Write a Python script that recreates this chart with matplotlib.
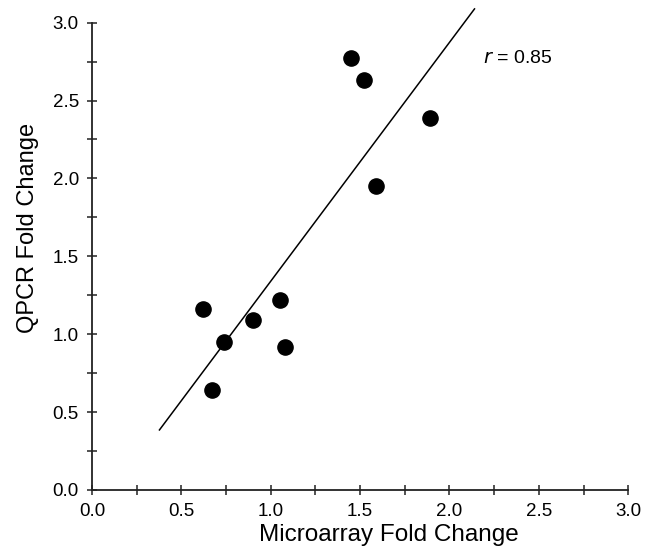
import numpy as np
import matplotlib
matplotlib.use("Agg")
import matplotlib.pyplot as plt
from matplotlib.ticker import MultipleLocator, FormatStrFormatter

plt.rcParams['font.family'] = ['Liberation Sans', 'DejaVu Sans']

# fold changes per gene
microarray = [0.62, 0.67, 0.74, 0.90, 1.05, 1.08, 1.45, 1.52, 1.59, 1.89]
qpcr = [1.16, 0.64, 0.95, 1.09, 1.22, 0.92, 2.77, 2.63, 1.95, 2.39]

# span of the regression line
fit_range = [0.377, 2.14]

x = np.array(microarray)
y = np.array(qpcr)
slope, intercept = np.polyfit(x, y, 1)
r = np.corrcoef(x, y)[0, 1]

fig = plt.figure(figsize=(6.53, 5.53), dpi=100)
ax = fig.add_axes([0.141, 0.114, 0.821, 0.845])

xs = np.array(fit_range)
ax.plot(xs, slope * xs + intercept, color='black', lw=1.1, clip_on=False)
ax.scatter(x, y, s=120, color='black', zorder=3, clip_on=False)

ax.text(2.19, 2.77, '$r$ = %.2f' % r, fontsize=14, va='center', ha='left')

ax.set_xlim(0, 3)
ax.set_ylim(0, 3)
for axis in [ax.xaxis, ax.yaxis]:
    axis.set_major_locator(MultipleLocator(0.5))
    axis.set_minor_locator(MultipleLocator(0.25))
    axis.set_major_formatter(FormatStrFormatter('%.1f'))

for side in ['top', 'right']:
    ax.spines[side].set_visible(False)
for side in ['left', 'bottom']:
    ax.spines[side].set_linewidth(1.3)
    ax.spines[side].set_color('#222222')

ax.tick_params(which='both', direction='inout', length=7, width=1.1,
               color='#222222', labelsize=13.5)
ax.tick_params(axis='x', pad=6)
ax.tick_params(axis='y', pad=6)

ax.set_xlabel('Microarray Fold Change', fontsize=17.5)
ax.set_ylabel('QPCR Fold Change', fontsize=17)
ax.xaxis.set_label_coords(0.553, -0.072)
ax.yaxis.set_label_coords(-0.099, 0.561)

fig.savefig('out.png', dpi=100)
